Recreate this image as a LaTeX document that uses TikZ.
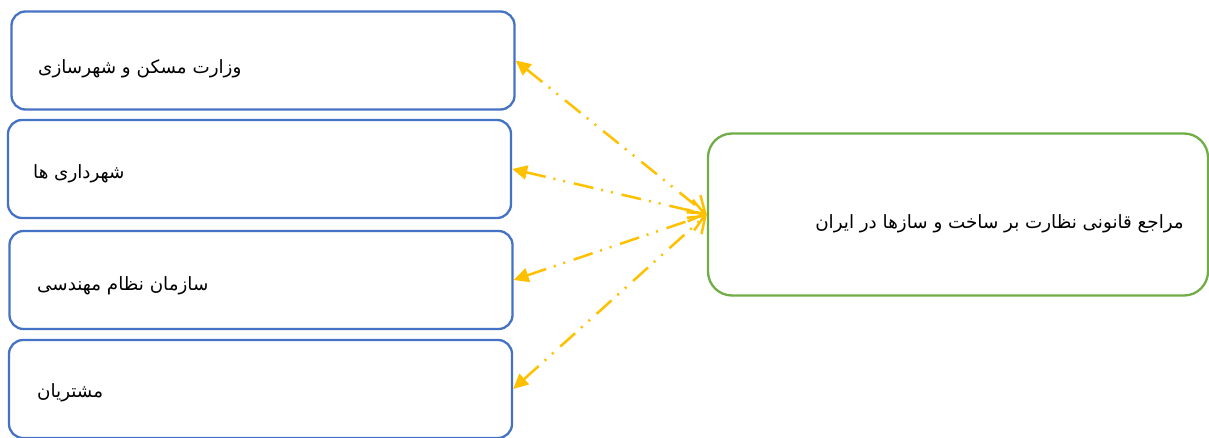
\documentclass[tikz,border=0pt]{standalone}
\usepackage{fontspec}
\newfontfamily\arabicfont[Script=Arabic]{DejaVu Sans}
\TeXXeTstate=1
\usetikzlibrary{arrows.meta}
\definecolor{boxblue}{HTML}{4472C4}
\definecolor{boxgreen}{HTML}{70AD47}
\definecolor{arrowgold}{HTML}{FFC000}
\tikzset{
  x=1pt, y=-1pt,
  leftbox/.style={draw=boxblue, line width=2.3pt, rounded corners=14pt, minimum width=503pt, minimum height=98pt, inner sep=0pt},
  mainbox/.style={draw=boxgreen, line width=2.3pt, rounded corners=24pt, minimum width=500pt, minimum height=162pt, inner sep=0pt},
  lbl/.style={font=\arabicfont\fontsize{18.3}{22}\selectfont, inner sep=0pt},
  conn/.style={draw=arrowgold, line width=2.5pt,
    dash pattern=on 20pt off 8pt on 2pt off 8pt on 2pt off 9pt,
    {Triangle[length=15pt,width=14pt]}-{Straight Barb[length=15pt,width=22pt,line width=2.5pt]}}
}
\begin{document}
\begin{tikzpicture}
\useasboundingbox (0,0) rectangle (1209,438);
\node[leftbox] (b1) at (263,60.5) {};
\node[leftbox] (b2) at (259.5,169) {};
\node[leftbox] (b3) at (261,280) {};
\node[leftbox] (b4) at (260.5,389) {};
\node[mainbox] (g) at (958,214.5) {};
\node[lbl, anchor=west] (t1) at (38,69) {\beginR وزارت مسکن و شهرسازی\endR};
\node[lbl, anchor=west] (t2) at (33,174) {\beginR شهرداری ها\endR};
\node[lbl, anchor=west] (t3) at (37,286) {\beginR سازمان نظام مهندسی\endR};
\node[lbl, anchor=west] (t4) at (37,393) {\beginR مشتریان\endR};
\node[lbl, anchor=east] (tg) at (1184,224) {\beginR مراجع قانونی نظارت بر ساخت و سازها در ایران\endR};
\draw[conn] (b1.east) -- (g.west);
\draw[conn] (b2.east) -- (g.west);
\draw[conn] (b3.east) -- (g.west);
\draw[conn] (b4.east) -- (g.west);
\end{tikzpicture}
\end{document}
